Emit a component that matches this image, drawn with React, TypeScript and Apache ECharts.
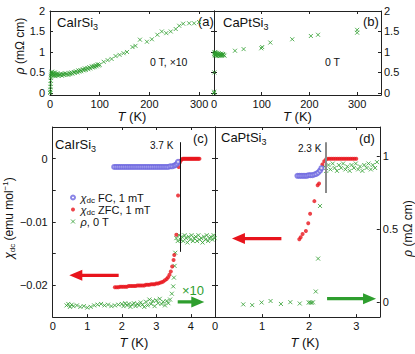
import React, { useEffect, useRef } from 'react';
import * as echarts from 'echarts';

const FONT = '"Liberation Sans", Arial, Helvetica, sans-serif';
const GREEN = '#2e9e2e';
const RED = '#e8141c';
const BLUE = '#6d66e0';
const INK = '#111';

// ---------- top panels: resistivity vs T (0 T) ----------
// CaIrSi3, rho x10 (mOhm cm)
const rhoIrWide: number[][] = [
  [0.3, 0.0], [0.6, 0.03], [0.9, 0.08], [1.1, 0.15], [1.3, 0.22], [1.5, 0.3], [1.8, 0.37], [2.1, 0.42],
  [2.5, 0.47], [3, 0.5], [3.5, 0.44], [4, 0.52], [5, 0.45], [6, 0.49], [7, 0.42], [8, 0.47], [9, 0.44],
  [10, 0.5], [11, 0.41], [12, 0.46], [14, 0.43], [15, 0.48], [17, 0.42], [18, 0.45], [20, 0.44], [22, 0.47],
  [24, 0.42], [26, 0.46], [28, 0.44], [30, 0.48], [32, 0.45], [34, 0.47], [37, 0.44], [39, 0.49], [41, 0.46],
  [43, 0.5], [45, 0.47], [48, 0.51], [50, 0.49], [52, 0.53], [55, 0.5], [57, 0.55], [59, 0.52], [61, 0.56],
  [63, 0.53], [66, 0.58], [68, 0.55], [70, 0.6], [72, 0.56], [75, 0.61], [77, 0.58], [79, 0.63], [81, 0.6],
  [84, 0.65], [86, 0.62], [88, 0.66], [90, 0.63], [92, 0.68], [94, 0.65], [96, 0.7], [98, 0.67], [100, 0.69],
  [108, 0.76], [116, 0.8], [124, 0.83], [132, 0.9], [140, 0.93], [148, 0.97], [155, 1.0], [166, 1.12],
  [172, 1.15], [181, 1.3], [195, 1.25], [205, 1.31], [216, 1.42], [225, 1.5], [234, 1.46], [243, 1.5],
  [253, 1.56], [260, 1.64], [268, 1.69], [280, 1.7], [290, 1.7], [300, 1.73],
];
// CaPtSi3 (mOhm cm)
const rhoPtWide: number[][] = [
  [0.2, 0.0], [0.4, 0.03], [0.8, 0.5], [0.5, 0.95], [1, 0.99], [1.5, 0.92], [2, 0.97], [2.5, 0.94], [3, 1.0],
  [3.5, 0.91], [4, 0.96], [5, 0.93], [6, 0.98], [7, 0.9], [8, 0.95], [9, 0.92], [10, 0.97], [11, 0.93],
  [12, 0.9], [13, 0.95], [14, 0.92], [15, 0.96], [16, 0.91], [17, 0.94], [18, 0.92], [19, 0.95], [20, 0.93],
  [22, 0.91], [44, 1.03], [62, 1.07], [99, 1.09], [101, 1.12], [118, 1.23], [164, 1.31], [203, 1.39],
  [218, 1.42], [300, 1.54], [300, 1.47],
];

// ---------- bottom panels: low T ----------
// CaIrSi3 chi_dc FC 1 mT (emu/mol)
const fcIr: number[][] = [
  [1.78, -0.0013], [1.84, -0.0013], [1.9, -0.0013], [1.96, -0.0013], [2.02, -0.0013], [2.08, -0.0013],
  [2.14, -0.0013], [2.2, -0.0013], [2.26, -0.0013], [2.32, -0.0013], [2.38, -0.0013], [2.44, -0.0013],
  [2.5, -0.0013], [2.56, -0.0013], [2.62, -0.0013], [2.68, -0.0013], [2.74, -0.0013], [2.8, -0.0013],
  [2.86, -0.0013], [2.92, -0.0013], [2.98, -0.0013], [3.04, -0.0013], [3.1, -0.0013], [3.16, -0.0013],
  [3.22, -0.0013], [3.28, -0.0013], [3.34, -0.0013], [3.4, -0.0012], [3.46, -0.0012], [3.52, -0.0011],
  [3.56, -0.001], [3.6, -0.0008], [3.63, -0.0005],
];
// CaIrSi3 chi_dc ZFC 1 mT
const zfcIr: number[][] = [
  [1.8, -0.0203], [1.85, -0.0203], [1.9, -0.0203], [1.95, -0.0202], [2.0, -0.0202], [2.05, -0.0202],
  [2.1, -0.0202], [2.15, -0.0202], [2.2, -0.0201], [2.25, -0.0201], [2.3, -0.0201], [2.35, -0.0201],
  [2.4, -0.0201], [2.45, -0.02], [2.5, -0.02], [2.55, -0.02], [2.6, -0.02], [2.65, -0.02], [2.7, -0.0199],
  [2.75, -0.0199], [2.8, -0.0199], [2.85, -0.0198], [2.9, -0.0198], [2.95, -0.0198], [3.0, -0.0197],
  [3.05, -0.0197], [3.1, -0.0196], [3.15, -0.0195], [3.2, -0.0194], [3.25, -0.0192], [3.3, -0.019],
  [3.34, -0.0187], [3.38, -0.0183], [3.42, -0.0178], [3.46, -0.017], [3.5, -0.016], [3.52, -0.0152],
  [3.58, -0.012], [3.63, -0.0058], [3.65, -0.0013], [3.68, -0.0006], [3.71, -0.0003], [3.74, -0.0001],
  [3.77, 0], [3.8, 0], [3.83, 0], [3.86, 0], [3.89, 0], [3.92, 0], [3.95, 0], [3.98, 0], [4.01, 0],
  [4.04, 0], [4.07, 0], [4.1, 0], [4.13, 0], [4.16, 0], [4.19, 0], [4.22, 0], [4.25, 0],
];
// CaIrSi3 rho 0 T, x10 (mOhm cm)
const rhoIr: number[][] = [
  [0.4, -0.02], [0.45, -0.01], [0.5, -0.03], [0.55, -0.015], [0.6, -0.025], [0.7, -0.02], [0.8, -0.03],
  [0.9, -0.025], [1.0, -0.035], [1.1, -0.03], [1.2, -0.02], [1.3, -0.015], [1.4, -0.01], [1.5, -0.02],
  [1.6, -0.015], [1.7, -0.025], [1.8, -0.02], [1.9, -0.015], [2.0, -0.01], [2.05, -0.025], [2.1, -0.005],
  [2.15, -0.02], [2.2, -0.01], [2.25, -0.03], [2.3, -0.015], [2.35, -0.005], [2.4, -0.025], [2.45, -0.01],
  [2.5, -0.02], [2.55, 0.0], [2.6, -0.015], [2.65, -0.03], [2.7, 0.005], [2.75, -0.02], [2.8, 0.02],
  [2.85, -0.01], [2.9, 0.01], [2.95, -0.025], [3.0, 0.015], [3.05, -0.005], [3.1, 0.025], [3.15, -0.01],
  [3.2, 0.005], [3.25, -0.02], [3.3, 0.01], [3.35, -0.005], [3.4, 0.02], [3.45, 0.06], [3.49, 0.11],
  [3.51, 0.17], [3.53, 0.25], [3.55, 0.34], [3.58, 0.44], [3.62, 0.42], [3.66, 0.46], [3.7, 0.43],
  [3.74, 0.45], [3.78, 0.42], [3.82, 0.46], [3.86, 0.44], [3.9, 0.41], [3.94, 0.45], [3.98, 0.43],
  [4.02, 0.46], [4.06, 0.42], [4.1, 0.44], [4.14, 0.45], [4.18, 0.42], [4.22, 0.46], [4.26, 0.43],
  [4.3, 0.44], [4.34, 0.41], [4.38, 0.45], [4.42, 0.43], [4.46, 0.46], [4.5, 0.42], [4.54, 0.44],
  [4.58, 0.45], [4.62, 0.43], [4.66, 0.46], [4.69, 0.44],
];
// CaPtSi3 chi_dc FC 1 mT
const fcPt: number[][] = [
  [1.75, -0.0027], [1.79, -0.0027], [1.83, -0.0027], [1.87, -0.0027], [1.91, -0.0027], [1.95, -0.0027],
  [1.99, -0.0026], [2.03, -0.0026], [2.07, -0.0026], [2.11, -0.0025], [2.15, -0.0024], [2.19, -0.0022],
  [2.23, -0.0019], [2.26, -0.0015],
];
// CaPtSi3 chi_dc ZFC 1 mT
const zfcPt: number[][] = [
  [1.79, -0.0127], [1.82, -0.0124], [1.86, -0.0119], [1.93, -0.0114], [1.98, -0.0102], [2.02, -0.0087],
  [2.11, -0.0067], [2.18, -0.0042], [2.21, -0.0039], [2.25, -0.0017], [2.28, -0.0009], [2.32, -0.0004],
  [2.36, -0.0001], [2.4, 0], [2.44, 0], [2.48, 0], [2.52, 0], [2.56, 0], [2.6, 0], [2.64, 0], [2.68, 0],
  [2.72, 0], [2.76, 0], [2.8, 0], [2.84, 0], [2.88, 0], [2.92, 0], [2.96, 0], [3.0, 0],
];
// CaPtSi3 rho 0 T (mOhm cm)
const rhoPt: number[][] = [
  [0.6, -0.013], [0.79, -0.018], [0.99, 0.0], [1.18, 0.01], [1.4, -0.01], [1.6, 0.002], [1.8, -0.007],
  [1.99, 0.0], [2.02, 0.0], [2.05, -0.002], [2.08, 0.001], [2.14, 0.075], [2.19, 0.3], [2.23, 0.66],
  [2.32, 0.93], [2.36, 0.9], [2.41, 0.94], [2.45, 0.91], [2.5, 0.95], [2.54, 0.92], [2.59, 0.9],
  [2.63, 0.94], [2.68, 0.92], [2.72, 0.95], [2.77, 0.91], [2.81, 0.93], [2.86, 0.9], [2.9, 0.94],
  [2.95, 0.92], [2.99, 0.95], [3.04, 0.91], [3.08, 0.93], [3.13, 0.9], [3.17, 0.94], [3.22, 0.92],
  [3.26, 0.95], [3.31, 0.91], [3.35, 0.94], [3.4, 0.92], [3.44, 0.96],
];

// transition markers
const tcIrLine = 3.7;
const tcPtLine = 2.35;
const tcIrSpan = [0.0026, -0.0147];
const tcPtSpan = [0.0026, -0.0054];

// tick values
const xTicksWide = [0, 100, 200, 300];
const yTicksWide = [0, 0.5, 1, 1.5, 2];
const xTicksIr = [0, 1, 2, 3, 4];
const xTicksPt = [0, 1, 2, 3];
const chiTicks = [-0.02, -0.015, -0.01, -0.005, 0];
const chiLabels = [-0.02, -0.01, 0];
const rhoTicks = [0, 0.5, 1];

// arrows in data coordinates [seriesIndex, fromT, toT, y, color]
const arrows: [number, number, number, number, string][] = [
  [3, 1.91, 0.48, -0.0184, RED],
  [3, 3.62, 4.39, -0.0226, GREEN],
  [6, 1.41, 0.36, -0.0126, RED],
  [6, 2.38, 3.42, -0.0221, GREEN],
];

const XSYM = 'path://M0,0L10,10M10,0L0,10';

function axis(o: any) {
  const a: any = {
    type: 'value',
    gridIndex: o.grid,
    min: o.min,
    max: o.max,
    position: o.pos,
    show: o.show !== false,
    axisLine: { show: true, onZero: false, lineStyle: { color: '#222', width: 1 } },
    axisTick: { show: !!o.ticks, inside: true, length: 3, customValues: o.ticks, lineStyle: { color: '#222' } },
    axisLabel: {
      show: !!o.labels,
      customValues: o.labels,
      fontSize: 11,
      fontFamily: FONT,
      color: INK,
      margin: o.margin ?? 3,
      formatter: o.fmt ?? ((v: number) => String(v)),
    },
    splitLine: { show: false },
  };
  if (o.name) {
    a.name = o.name;
    a.nameLocation = 'middle';
    a.nameGap = o.nameGap;
    a.nameRotate = o.nameRotate;
    a.nameTextStyle = {
      fontSize: o.nameSize ?? 12,
      fontFamily: FONT,
      color: INK,
      padding: o.namePad ?? 0,
      rich: {
        i: { fontSize: o.nameSize ?? 12, fontStyle: 'italic', fontFamily: FONT, color: INK },
        s: { fontSize: 8, fontFamily: FONT, color: INK, padding: [7, 0, 0, 0], verticalAlign: 'bottom' },
        p: { fontSize: 8, fontFamily: FONT, color: INK, verticalAlign: 'top' },
      },
    };
  }
  return a;
}

const chiFmt = (v: number) => (v === 0 ? '0' : '\u2212' + String(Math.abs(v)));

function buildOption() {
  const grids = [
    { left: 50, top: 11, width: 164, height: 84 },
    { left: 214, top: 11, width: 167, height: 84 },
    { left: 50, top: 127, width: 165, height: 197 },
    { left: 215, top: 127, width: 166, height: 197 },
  ];
  const xAxis = [
    axis({ grid: 0, min: 0, max: 330, pos: 'bottom', ticks: xTicksWide, labels: xTicksWide, name: '{i|T} (K)', nameGap: 8, nameSize: 13 }),
    axis({ grid: 0, min: 0, max: 330, pos: 'top', ticks: xTicksWide }),
    axis({ grid: 1, min: 0, max: 350, pos: 'bottom', ticks: xTicksWide, labels: xTicksWide, name: '{i|T} (K)', nameGap: 8, nameSize: 13 }),
    axis({ grid: 1, min: 0, max: 350, pos: 'top', ticks: xTicksWide }),
    axis({ grid: 2, min: 0, max: 4.7, pos: 'bottom', ticks: xTicksIr, labels: xTicksIr, name: '{i|T} (K)', nameGap: 13, nameSize: 13 }),
    axis({ grid: 2, min: 0, max: 4.7, pos: 'top', ticks: xTicksIr }),
    axis({ grid: 3, min: 0, max: 3.5, pos: 'bottom', ticks: xTicksPt, labels: xTicksPt, name: '{i|T} (K)', nameGap: 13, nameSize: 13, namePad: [0, 0, 0, 15] }),
    axis({ grid: 3, min: 0, max: 3.5, pos: 'top', ticks: xTicksPt }),
  ];
  const yAxis = [
    axis({ grid: 0, min: -0.05, max: 2, pos: 'left', ticks: yTicksWide, labels: yTicksWide, margin: 5, name: '{i|ρ} (mΩ cm)', nameGap: 21, nameRotate: 90, namePad: [0, 0, 0, 14] }),
    axis({ grid: 0, min: -0.05, max: 2, pos: 'right', ticks: yTicksWide }),
    axis({ grid: 1, min: -0.05, max: 2, pos: 'left', ticks: yTicksWide }),
    axis({ grid: 1, min: -0.05, max: 2, pos: 'right', ticks: yTicksWide, labels: yTicksWide, margin: 3 }),
    axis({ grid: 2, min: -0.025, max: 0.005, pos: 'left', ticks: chiTicks, labels: chiLabels, fmt: chiFmt, margin: 5, name: '{i|χ}{s|dc} (emu mol{p|−1})', nameGap: 31, nameRotate: 90, namePad: [0, 0, 0, 8] }),
    axis({ grid: 2, min: -0.025, max: 0.005, pos: 'right', ticks: chiTicks }),
    axis({ grid: 2, min: -0.1, max: 1.2, pos: 'right', show: false }),
    axis({ grid: 3, min: -0.025, max: 0.005, pos: 'left', ticks: chiTicks }),
    axis({ grid: 3, min: -0.1, max: 1.2, pos: 'right', ticks: rhoTicks, labels: rhoTicks, margin: 3, name: '{i|ρ} (mΩ cm)', nameGap: 21, nameRotate: 90, namePad: [0, 13, 0, 0] }),
  ];

  const green = (name: string, x: number, y: number, data: number[][], size = 4) => ({
    type: 'scatter', name, xAxisIndex: x, yAxisIndex: y, data,
    symbol: XSYM, symbolSize: size,
    itemStyle: { color: 'rgba(0,0,0,0)', borderColor: GREEN, borderWidth: 1 },
    emphasis: { disabled: true }, silent: true,
  });
  const blue = (x: number, y: number, data: number[][]) => ({
    type: 'scatter', name: 'FC', xAxisIndex: x, yAxisIndex: y, data,
    symbol: 'emptyCircle', symbolSize: 4,
    itemStyle: { color: BLUE, borderColor: BLUE, borderWidth: 1 },
    emphasis: { disabled: true }, silent: true,
  });
  const red = (x: number, y: number, data: number[][], ml: any) => ({
    type: 'scatter', name: 'ZFC', xAxisIndex: x, yAxisIndex: y, data,
    symbol: 'circle', symbolSize: 4,
    itemStyle: { color: RED },
    emphasis: { disabled: true }, silent: true,
    markLine: ml,
  });
  const vline = (t: number, span: number[], color: string, width: number) => ({
    silent: true,
    symbol: ['none', 'none'],
    label: { show: false },
    lineStyle: { color, width, type: 'solid' },
    emphasis: { disabled: true },
    data: [[{ coord: [t, span[0]] }, { coord: [t, span[1]] }]],
  });

  const series = [
    green('rhoA', 0, 0, rhoIrWide),
    green('rhoB', 2, 3, rhoPtWide),
    green('rho', 4, 6, rhoIr),
    red(4, 4, zfcIr, vline(tcIrLine, tcIrSpan, '#111', 1)),
    blue(4, 4, fcIr),
    green('rho', 6, 8, rhoPt),
    red(6, 7, zfcPt, vline(tcPtLine, tcPtSpan, '#8a8a8a', 2)),
    blue(6, 7, fcPt),
  ];

  const legendNames: Record<string, string> = {
    FC: '{i|χ}{s|dc} FC, 1 mT',
    ZFC: '{i|χ}{s|dc} ZFC, 1 mT',
    rho: '{i|ρ}, 0 T',
  };

  return {
    animation: false,
    backgroundColor: '#fff',
    textStyle: { fontFamily: FONT },
    grid: grids,
    xAxis,
    yAxis,
    legend: {
      left: 65, top: 187, orient: 'vertical', itemWidth: 5, itemHeight: 4, itemGap: 0,
      selectedMode: false,
      data: ['FC', 'ZFC', 'rho'],
      formatter: (n: string) => legendNames[n],
      itemStyle: { borderWidth: 1 },
      textStyle: {
        fontSize: 11, fontFamily: FONT, color: INK,
        rich: {
          i: { fontSize: 11, fontStyle: 'italic', fontFamily: FONT, color: INK },
          s: { fontSize: 8, fontFamily: FONT, color: INK, padding: [5, 0, 0, 0], verticalAlign: 'bottom' },
        },
      },
    },
    series,
  };
}

function label(text: string, x: number, y: number, size = 13, fill = INK) {
  return {
    type: 'text', x, y, silent: true,
    style: {
      text, fill, fontSize: size, fontFamily: FONT, align: 'left', verticalAlign: 'top',
      rich: { s: { fontSize: 9, fontFamily: FONT, fill, padding: [8, 0, 0, 0], verticalAlign: 'bottom' } },
    },
  };
}

export default function App() {
  const ref = useRef<HTMLDivElement>(null);
  useEffect(() => {
    if (!ref.current) return;
    const chart = echarts.init(ref.current, undefined, { renderer: 'svg' });
    chart.setOption(buildOption() as any);

    const graphics: any[] = [
      label('CaIrSi{s|3}', 57, 14),
      label('(a)', 198, 15),
      label('0 T, ×10', 150, 56, 10.5),
      label('CaPtSi{s|3}', 223, 14),
      label('(b)', 363, 15),
      label('0 T', 325, 56, 10.5),
      label('CaIrSi{s|3}', 55, 136),
      label('(c)', 193, 132),
      label('CaPtSi{s|3}', 221, 129),
      label('(d)', 359, 132),
      label('3.7 K', 150, 140, 10),
      label('2.3 K', 298, 143, 10),
      label('×10', 182, 284, 13, GREEN),
    ];
    arrows.forEach(([si, t0, t1, v, color]) => {
      const p0 = chart.convertToPixel({ seriesIndex: si }, [t0, v]) as number[];
      const p1 = chart.convertToPixel({ seriesIndex: si }, [t1, v]) as number[];
      if (!p0 || !p1) return;
      const dir = Math.sign(p1[0] - p0[0]);
      const hl = 13, sh = 1.6, hh = 5.5;
      const y = p0[1];
      const bx = p1[0] - dir * hl;
      graphics.push({
        type: 'polygon', silent: true,
        shape: { points: [[p0[0], y - sh], [bx, y - sh], [bx, y - hh], [p1[0], y], [bx, y + hh], [bx, y + sh], [p0[0], y + sh]] },
        style: { fill: color },
      });
    });
    chart.setOption({ graphic: graphics });
    return () => chart.dispose();
  }, []);
  return <div ref={ref} style={{ position: 'fixed', left: 0, top: 0, width: 415, height: 354, background: '#fff' }} />;
}
